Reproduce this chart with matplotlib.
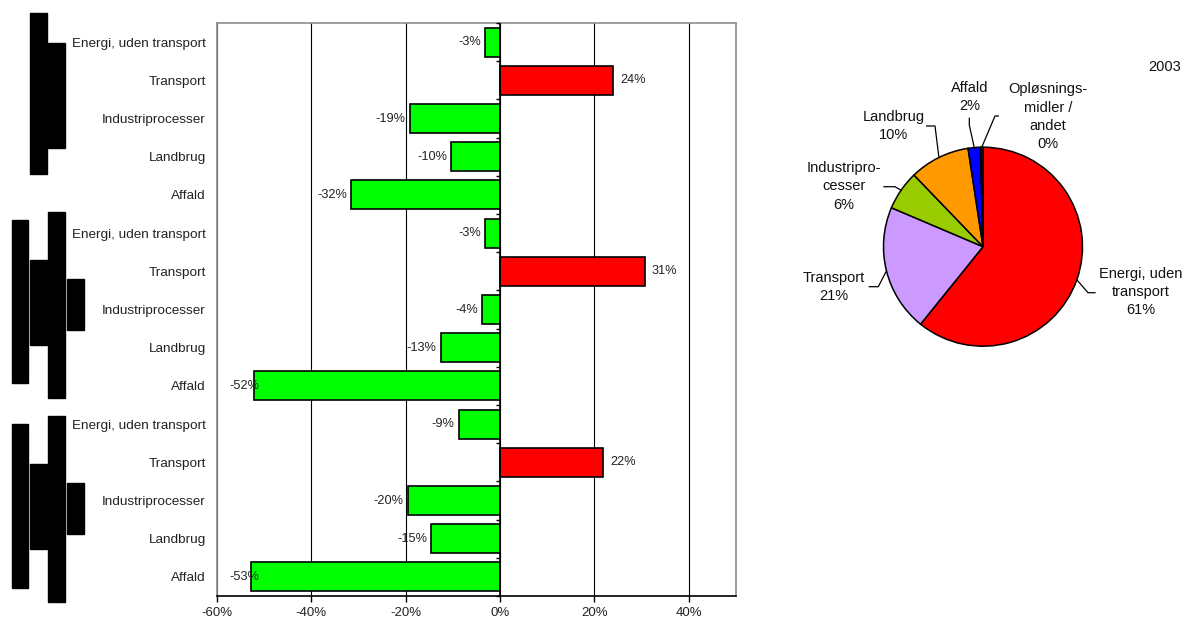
import numpy as np
import matplotlib
matplotlib.use("Agg")
import matplotlib.pyplot as plt
from matplotlib.patches import Rectangle

plt.rcParams['font.family'] = ['Liberation Sans', 'DejaVu Sans']

# ---------------- data ----------------
categories = ["Energi, uden transport", "Transport", "Industriprocesser", "Landbrug", "Affald"]
group1 = [-3.2, 24.0, -19.2, -10.4, -31.6]
group2 = [-3.2, 30.7, -3.9, -12.6, -52.1]
group3 = [-8.8, 21.8, -19.6, -14.6, -52.8]
xticks = [-60, -40, -20, 0, 20, 40]
xtick_labels = ["-60%", "-40%", "-20%", "0%", "20%", "40%"]

pie_labels = ["Energi, uden\ntransport", "Transport", "Industripro-\ncesser", "Landbrug", "Affald",
              "Opløsnings-\nmidler /\nandet"]
pie_values = [60.8, 20.6, 6.4, 9.8, 2.0, 0.4]
pie_pct_labels = ["61%", "21%", "6%", "10%", "2%", "0%"]
pie_colors = ["#FF0000", "#CC99FF", "#99CC00", "#FF9900", "#0000FF", "#1a1a1a"]
pie_title = "2003"

W, H = 1184, 618
fig = plt.figure(figsize=(W / 100, H / 100), dpi=100)

# ---------------- bar chart ----------------
ax = fig.add_axes([217 / W, 1 - 596 / H, (736 - 217) / W, (596 - 23) / H])
values = group1 + group2 + group3
labels = categories * 3
y = np.arange(len(values))
colors = ["#FF0000" if v > 0 else "#00FF00" for v in values]
ax.barh(y, values, height=0.76, color=colors, edgecolor="black", linewidth=1.2, zorder=3)
ax.set_ylim(len(values) - 0.5, -0.5)
ax.set_xlim(-60, 50)
ax.set_xticks(xticks)
ax.set_xticklabels(xtick_labels, fontsize=9.5, color="#222222")
ax.set_yticks(y)
ax.set_yticklabels(labels, fontsize=9.7, color="#222222")
ax.tick_params(axis="y", length=0, pad=8)
ax.tick_params(axis="x", direction="out", length=4, width=1, color="black", pad=4)
ax.grid(axis="x", color="black", linewidth=0.8, zorder=1)
for s in ["top", "right", "left"]:
    ax.spines[s].set_color("#8c8c8c")
    ax.spines[s].set_linewidth(1.2)
ax.spines["bottom"].set_color("black")
ax.spines["bottom"].set_linewidth(1.2)
ax.axvline(0, color="black", linewidth=1.2, zorder=4)
bounds = np.arange(len(values) + 1) - 0.5
ax.plot(np.zeros_like(bounds), bounds, linestyle="none", marker=0, markersize=3,
        markeredgewidth=1, color="black", zorder=4, clip_on=False)

for yi, v in zip(y, values):
    txt = f"{v:.0f}%"
    if v >= 0:
        ax.annotate(txt, (v, yi), xytext=(7, 0), textcoords="offset pixels",
                    ha="left", va="center", fontsize=9.2, color="#222222", zorder=5)
    else:
        ax.annotate(txt, (max(v, -50.2), yi), xytext=(-4, 0), textcoords="offset pixels",
                    ha="right", va="center", fontsize=9.2, color="#222222", zorder=5)

# ---------------- redaction blocks ----------------
blocks = [(30, 13, 47, 174), (48, 43, 65, 148),
          (12, 220, 28, 383), (30, 260, 47, 345), (48, 212, 65, 398), (67, 279, 84, 330),
          (12, 424, 28, 588), (30, 464, 47, 549), (48, 416, 65, 602), (67, 483, 84, 534)]
for x0, y0, x1, y1 in blocks:
    fig.add_artist(Rectangle((x0 / W, 1 - y1 / H), (x1 - x0) / W, (y1 - y0) / H,
                             transform=fig.transFigure, color="black", zorder=10))

# ---------------- pie chart ----------------
ax2 = fig.add_axes([0, 0, 1, 1])
cx, cy, r = 983, H - 246.7, 99.5
wedges, _ = ax2.pie(pie_values, colors=pie_colors, startangle=90, counterclock=False,
                    center=(cx, cy), radius=r,
                    wedgeprops=dict(edgecolor="black", linewidth=1.1))
ax2.set_xlim(0, W)
ax2.set_ylim(0, H)
ax2.set_aspect("auto")
ax2.axis("off")

# label layout (pixel coords from top): text center, leader elbow, leader end
label_pos = [(1141, 292.3), (833.7, 287), (844, 186.5), (893.8, 126.3), (970, 96.7), (1048, 116.7)]
leaders = [[(1088, 292.7), (1095, 292.7)],
           [(878.3, 286.7), (869.3, 286.7)],
           [(895, 186.7), (884, 186.7)],
           [(935, 126), (926.7, 126)],
           [(969.3, 125), (969.3, 118.3)],
           [(995, 116), (998.3, 116)]]
for w, lab, pct, (tx, ty), pts in zip(wedges, pie_labels, pie_pct_labels, label_pos, leaders):
    mid = np.deg2rad((w.theta1 + w.theta2) / 2)
    sx, sy = cx + r * np.cos(mid), cy + r * np.sin(mid)
    xs = [sx] + [p[0] for p in pts]
    ys = [sy] + [H - p[1] for p in pts]
    ax2.plot(xs, ys, color="black", linewidth=0.9)
    ax2.text(tx, H - ty, lab + "\n" + pct, ha="center", va="center", fontsize=10.5,
             linespacing=1.38, color="#111111")

ax2.text(1164.5, H - 66.7, pie_title, ha="center", va="center", fontsize=10.5, color="#111111")

fig.savefig("out.png", dpi=100)
